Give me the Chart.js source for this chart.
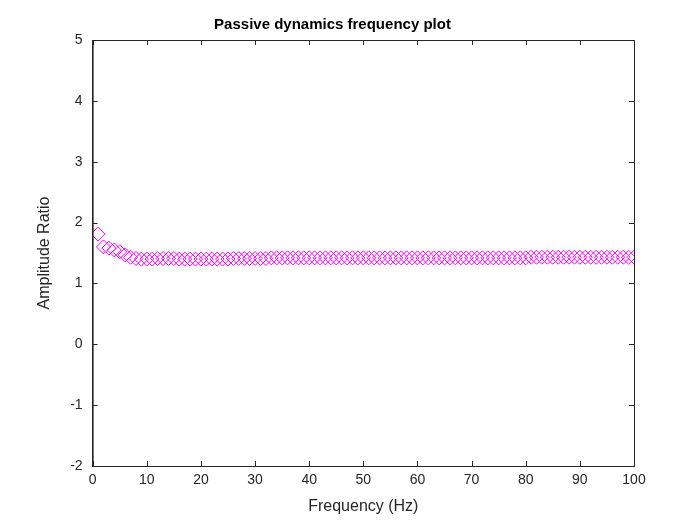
<!DOCTYPE html>
<html><head><meta charset="utf-8">
<script src="https://cdn.jsdelivr.net/npm/chart.js@4/dist/chart.umd.min.js"></script>
<style>body{margin:0;background:#fff}#wrap{width:700px;height:525px}</style>
</head><body><div id="wrap"><canvas id="c"></canvas></div>
<script>
const xTicks = [0,10,20,30,40,50,60,70,80,90,100];
const yTicks = [-2,-1,0,1,2,3,4,5];
const amplitude = [
  1.81,1.60,1.58,1.55,1.52,1.47,1.43,1.41,1.40,1.40,
  1.40,1.41,1.41,1.41,1.41,1.40,1.40,1.40,1.40,1.40,
  1.40,1.40,1.40,1.40,1.40,1.41,1.41,1.41,1.41,1.41,
  1.41,1.41,1.42,1.42,1.42,1.42,1.42,1.42,1.42,1.42,
  1.42,1.42,1.42,1.42,1.42,1.42,1.42,1.42,1.42,1.42,
  1.42,1.42,1.42,1.42,1.42,1.42,1.42,1.42,1.42,1.42,
  1.42,1.42,1.42,1.42,1.42,1.42,1.42,1.42,1.42,1.42,
  1.42,1.42,1.42,1.42,1.42,1.42,1.42,1.42,1.42,1.42,
  1.43,1.43,1.43,1.43,1.43,1.43,1.43,1.43,1.43,1.43,
  1.43,1.43,1.43,1.43,1.43,1.43,1.43,1.43,1.43,1.43
];
const points = amplitude.map((v, i) => ({ x: i + 1, y: v }));

const frame = {
  id: 'frame',
  afterDraw(chart) {
    const { ctx, chartArea: a } = chart;
    ctx.save();
    ctx.strokeStyle = '#262626';
    ctx.lineWidth = 1;
    ctx.strokeRect(a.left + 0.5, a.top + 0.5, a.right - a.left, a.bottom - a.top);
    ctx.beginPath();
    xTicks.forEach(t => {
      const x = Math.round(chart.scales.x.getPixelForValue(t)) + 0.5;
      ctx.moveTo(x, a.bottom); ctx.lineTo(x, a.bottom - 5);
      ctx.moveTo(x, a.top); ctx.lineTo(x, a.top + 5);
    });
    yTicks.forEach(t => {
      const y = Math.round(chart.scales.y.getPixelForValue(t)) + 0.5;
      ctx.moveTo(a.left, y); ctx.lineTo(a.left + 5, y);
      ctx.moveTo(a.right, y); ctx.lineTo(a.right - 5, y);
    });
    ctx.stroke();
    ctx.restore();
  }
};

new Chart(document.getElementById('c'), {
  type: 'scatter',
  data: { datasets: [{
    data: points,
    pointStyle: 'rectRot',
    pointRadius: 7,
    borderColor: '#ff00ff',
    backgroundColor: 'rgba(0,0,0,0)',
    borderWidth: 1,
    showLine: false
  }]},
  options: {
    responsive: true, maintainAspectRatio: false, animation: false,
    layout: { padding: { left: 31, right: 66, top: 12, bottom: 5 } },
    plugins: {
      legend: { display: false },
      tooltip: { enabled: false },
      title: { display: true, text: 'Passive dynamics frequency plot',
        color: '#000', font: { family: 'Arial, Liberation Sans', size: 15, weight: 'bold' },
        padding: { top: 4, bottom: 6 } }
    },
    scales: {
      x: {
        type: 'linear', min: 0, max: 100,
        afterBuildTicks: s => { s.ticks = xTicks.map(v => ({ value: v })); },
        grid: { display: false, drawTicks: false },
        border: { color: '#262626' },
        ticks: { color: '#262626', padding: 6, font: { family: 'Arial, Liberation Sans', size: 14 } },
        title: { display: true, text: 'Frequency (Hz)', color: '#262626',
          font: { family: 'Arial, Liberation Sans', size: 16 }, padding: { top: 2 } }
      },
      y: {
        type: 'linear', min: -2, max: 5,
        afterBuildTicks: s => { s.ticks = yTicks.map(v => ({ value: v })); },
        grid: { display: false, drawTicks: false },
        border: { color: '#262626' },
        ticks: { color: '#262626', padding: 10, font: { family: 'Arial, Liberation Sans', size: 14 } },
        title: { display: true, text: 'Amplitude Ratio', color: '#262626',
          font: { family: 'Arial, Liberation Sans', size: 16 }, padding: { bottom: 6 } }
      }
    }
  },
  plugins: [frame]
});
</script></body></html>
